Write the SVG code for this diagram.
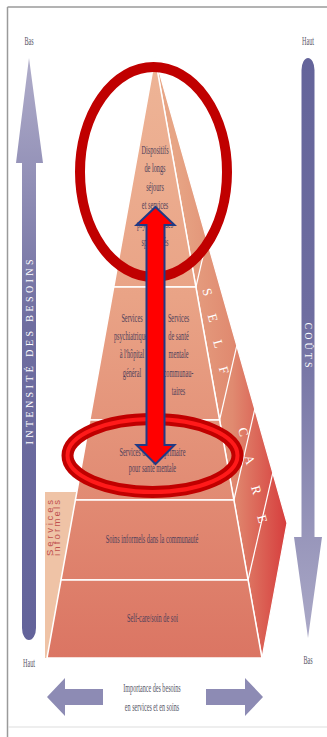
<svg xmlns="http://www.w3.org/2000/svg" width="327" height="737" viewBox="0 0 327 737">
<defs>
<linearGradient id="gFront" gradientUnits="userSpaceOnUse" x1="0" y1="57" x2="0" y2="658">
<stop offset="0" stop-color="#EEB597"/><stop offset="0.4" stop-color="#E9A386"/><stop offset="0.7" stop-color="#E28D75"/><stop offset="1" stop-color="#DB7563"/>
</linearGradient>
<linearGradient id="gSide" gradientUnits="userSpaceOnUse" x1="175" y1="0" x2="290" y2="0">
<stop offset="0" stop-color="#E7A585"/><stop offset="0.5" stop-color="#E08A70"/><stop offset="1" stop-color="#D6393A"/>
</linearGradient>
<linearGradient id="gLeft" gradientUnits="userSpaceOnUse" x1="0" y1="58" x2="0" y2="645">
<stop offset="0" stop-color="#B0ADCA"/><stop offset="0.45" stop-color="#6F6EA0"/><stop offset="1" stop-color="#63639A"/>
</linearGradient>
<linearGradient id="gRight" gradientUnits="userSpaceOnUse" x1="0" y1="50" x2="0" y2="638">
<stop offset="0" stop-color="#64649A"/><stop offset="0.45" stop-color="#6E6DA0"/><stop offset="1" stop-color="#ABA9C7"/>
</linearGradient>
<style>
.t{font-family:"Liberation Serif","Times New Roman",serif;font-size:12.8px;fill:#4E3F5A;text-anchor:middle}
.lab{font-family:"Liberation Serif","Times New Roman",serif;font-size:12.5px;fill:#555566;text-anchor:middle}
.tier{fill:url(#gFront);stroke:#FFFFFF;stroke-width:1.5;stroke-linejoin:round}
.wl{stroke:#FFFFFF;stroke-width:1.2;fill:none}
.sc{font-family:"Liberation Serif","Times New Roman",serif;font-size:13px;fill:#FFFFFF;text-anchor:middle}
.ax{font-family:"Liberation Serif","Times New Roman",serif;font-size:10px;fill:#FFFFFF;text-anchor:middle}
.si{font-family:"Liberation Sans",Arial,sans-serif;font-size:9.5px;fill:#C0504D;text-anchor:middle}
.hb{fill:#8D8BB4}
</style>
</defs>
<rect x="0" y="0" width="327" height="737" fill="#FFFFFF"/>
<g id="frame">
<line x1="7.5" y1="7" x2="327" y2="7" stroke="#9A9A9A" stroke-width="1.5"/>
<line x1="7.5" y1="7" x2="7.5" y2="737" stroke="#9A9A9A" stroke-width="1.5"/>
<line x1="8" y1="727" x2="327" y2="727" stroke="#DDDDDD" stroke-width="1"/>
</g>
<g id="axis-left">
<path d="M29,58 L43,163 L36,163 L36,628 A7,12 0 0 1 22,628 L22,163 L16,163 Z" fill="url(#gLeft)"/>
<text class="ax" transform="translate(33,352) rotate(-90)" textLength="185" lengthAdjust="spacing">INTENSITÉ DES BESOINS</text>
<text class="lab" transform="translate(29,45) scale(0.49,1)">Bas</text>
<text class="lab" transform="translate(29,667) scale(0.49,1)">Haut</text>
</g>
<g id="axis-right">
<path d="M301.5,537 L301.5,70 A6.5,12 0 0 1 314.5,70 L314.5,537 L322,537 L308,638 L294,537 Z" fill="url(#gRight)"/>
<text class="ax" transform="translate(304.5,345) rotate(90)" textLength="45" lengthAdjust="spacing">COÛTS</text>
<text class="lab" transform="translate(308,45) scale(0.49,1)">Haut</text>
<text class="lab" transform="translate(308,664) scale(0.49,1)">Bas</text>
</g>
<g id="axis-bottom">
<path class="hb" d="M47,697 L65,678 L65,689 L103,689 L103,705 L65,705 L65,716 Z"/>
<path class="hb" d="M263,697 L245,678 L245,689 L206,689 L206,705 L245,705 L245,716 Z"/>
<text class="lab" transform="translate(152,692) scale(0.49,1)">Importance des besoins</text>
<text class="lab" transform="translate(152,711) scale(0.49,1)">en services et en soins</text>
</g>
<g id="services-informels">
<polygon points="45,492 77,492 47,658 45,658" fill="#EFC3A6"/>
<text class="si" transform="translate(52.5,528) rotate(-90)" textLength="56" lengthAdjust="spacing">Services</text>
<text class="si" transform="translate(60,528) rotate(-90)" textLength="56" lengthAdjust="spacing">informels</text>
</g>
<g id="self-care-side">
<polygon points="155,57 287,523 262,658" fill="url(#gSide)" stroke="#FFFFFF" stroke-width="1.2" stroke-linejoin="round"/>
<line class="wl" x1="195.9" y1="287" x2="206.8" y2="240"/>
<line class="wl" x1="219.6" y1="420" x2="236.8" y2="345.6"/>
<line class="wl" x1="233.9" y1="500" x2="254.8" y2="409.2"/>
<line class="wl" x1="248.1" y1="580" x2="272.8" y2="472.8"/>
<text class="sc" transform="translate(207,292) rotate(74)" dy="4">S</text>
<text class="sc" transform="translate(212.5,318) rotate(74)" dy="4">E</text>
<text class="sc" transform="translate(218,344) rotate(74)" dy="4">L</text>
<text class="sc" transform="translate(223.5,370) rotate(74)" dy="4">F</text>
<text class="sc" transform="translate(243,432) rotate(74)" dy="4">C</text>
<text class="sc" transform="translate(249.5,460) rotate(74)" dy="4">A</text>
<text class="sc" transform="translate(256,490) rotate(74)" dy="4">R</text>
<text class="sc" transform="translate(262,519) rotate(74)" dy="4">E</text>
</g>
<g id="tier-1">
<polygon class="tier" points="155,57 195.9,287 113.7,287"/>
<text class="t" transform="translate(155,154) scale(0.49,1)"><tspan x="0" dy="0">Dispositifs</tspan><tspan x="0" dy="18.5">de longs</tspan><tspan x="0" dy="18.5">séjours</tspan><tspan x="0" dy="18.5">et services</tspan><tspan x="0" dy="18.5">psychiatriques</tspan><tspan x="0" dy="18.5">spécialisés</tspan></text>
</g>
<g id="tier-2">
<polygon class="tier" points="113.7,287 195.9,287 219.6,420 89.8,420"/>
<text class="t" transform="translate(132,321.5) scale(0.49,1)"><tspan x="0" dy="0">Services</tspan><tspan x="0" dy="18.5">psychiatriques</tspan><tspan x="0" dy="18.5">à l'hôpital</tspan><tspan x="0" dy="18.5">général</tspan></text>
<text class="t" transform="translate(178.5,321.5) scale(0.49,1)"><tspan x="0" dy="0">Services</tspan><tspan x="0" dy="18.5">de santé</tspan><tspan x="0" dy="18.5">mentale</tspan><tspan x="0" dy="18.5">communau-</tspan><tspan x="0" dy="18.5">taires</tspan></text>
</g>
<g id="tier-3">
<polygon class="tier" points="89.8,420 219.6,420 233.9,500 75.4,500"/>
<text class="t" transform="translate(152.5,455.5) scale(0.49,1)"><tspan x="0" dy="0">Services de soins primaire</tspan><tspan x="0" dy="17">pour santé mentale</tspan></text>
</g>
<g id="tier-4">
<polygon class="tier" points="75.4,500 233.9,500 248.1,580 61,580"/>
<text class="t" transform="translate(152,543) scale(0.49,1)">Soins informels dans la communauté</text>
</g>
<g id="tier-5">
<polygon class="tier" points="61,580 248.1,580 262,658 47,658"/>
<text class="t" transform="translate(152.5,622) scale(0.49,1)">Self-care/soin de soi</text>
</g>
<g id="highlights">
<ellipse cx="153.5" cy="172" rx="73.5" ry="105" fill="none" stroke="#C00000" stroke-width="10"/>
<ellipse cx="152.5" cy="455.5" rx="85" ry="36.5" fill="none" stroke="#C00000" stroke-width="12"/>
<ellipse cx="152.5" cy="455.5" rx="85" ry="36.5" fill="none" stroke="#FF1A1A" stroke-width="4"/>
</g>
<g id="connectors">
<path d="M155.5,207 L174.5,225 L164.5,225 L164.5,445 L174.5,445 L155.5,464 L136.5,445 L146.5,445 L146.5,225 L136.5,225 Z" fill="#FF0000" stroke="#1F3A86" stroke-width="2" stroke-linejoin="miter"/>
</g>
</svg>
